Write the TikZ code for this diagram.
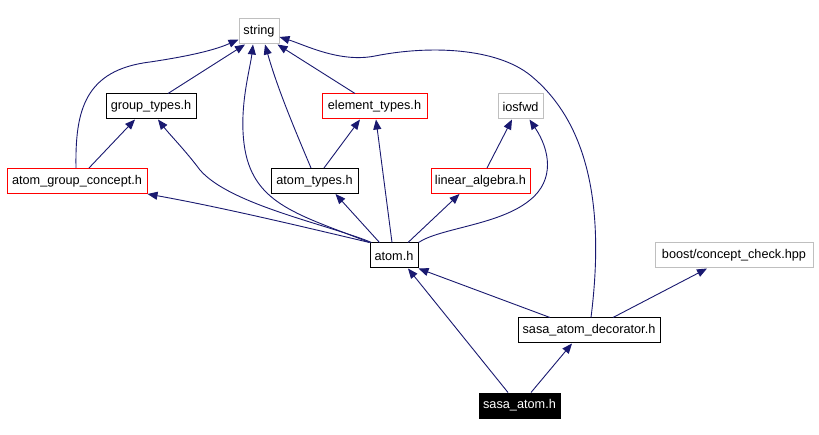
\documentclass[tikz,border=0pt]{standalone}
\usepackage{fontspec}
\setmainfont{Liberation Sans}
\usetikzlibrary{arrows.meta}
\definecolor{edgec}{HTML}{191970}
\definecolor{grayb}{HTML}{BFBFBF}
\definecolor{redb}{HTML}{FF0000}
\begin{document}
\begin{tikzpicture}[x=1pt,y=-1pt,
  box/.style={draw=black, minimum height=25pt, inner sep=0pt, line width=1pt, text=black,
    font=\fontsize{12.7}{14}\selectfont},
  redbox/.style={box, draw=redb},
  graybox/.style={box, draw=grayb},
  selbox/.style={box, fill=black, text=white},
  edge/.style={draw=edgec, line width=0.9pt, -{Triangle[length=10pt,width=8pt]}}]
\fill[white] (0,0) rectangle (819,435);
\useasboundingbox (0,0) rectangle (819,435);

\node[graybox, minimum width=40pt]  (str)   at (259,31.5)  {string};
\node[box,     minimum width=90pt]  (gt)    at (151,106.5) {group\_types.h};
\node[redbox,  minimum width=105pt] (et)    at (374.5,106.5) {element\_types.h};
\node[graybox, minimum width=45pt]  (ios)   at (520.5,106.5) {iosfwd};
\node[redbox,  minimum width=140pt] (agc)   at (77,181)    {atom\_group\_concept.h};
\node[box,     minimum width=87pt]  (at)    at (314.5,181) {atom\_types.h};
\node[redbox,  minimum width=99pt]  (la)    at (480.5,181) {linear\_algebra.h};
\node[box,     minimum width=48pt]  (atom)  at (394,255.5) {atom.h};
\node[graybox, minimum width=158pt] (boost) at (734,255.5) {boost/concept\_check.hpp};
\node[box,     minimum width=142pt] (sdec)  at (589,330.5) {sasa\_atom\_decorator.h};
\node[selbox,  minimum width=81pt]  (sasa)  at (519.5,405.5) {sasa\_atom.h};

% group_types.h
\draw[edge] ([xshift=17pt]gt.north) -- ([xshift=-14pt]str.south);
% atom_group_concept.h
\draw[edge] ([xshift=-1pt]agc.north) .. controls (75,110) and (85,70) .. (150,62)
  .. controls (190,56) and (215,50) .. ([yshift=-8pt]str.west);
\draw[edge] ([xshift=12pt]agc.north) -- ([xshift=-16pt]gt.south);
% element_types.h
\draw[edge] ([xshift=-19.5pt]et.north) -- ([xshift=-2pt]str.south east);
% atom_types.h
\draw[edge] ([xshift=-3.5pt]at.north) .. controls (295,130) and (278,90) .. ([xshift=6pt]str.south);
\draw[edge] ([xshift=9.5pt]at.north) -- ([xshift=-14.5pt]et.south);
% atom.h
\draw[edge] (atom.north west) .. controls (300,215) and (255,205) .. (245,150)
  .. controls (238,110) and (250,70) .. ([xshift=-6pt]str.south);
\draw[edge] ([xshift=2pt]atom.north west) .. controls (330,225) and (230,205) .. (200,170)
  .. controls (185,150) and (170,135) .. ([xshift=7pt]gt.south);
\draw[edge] (atom.north west) .. controls (300,226) and (220,207) .. (agc.south east);
\draw[edge] ([xshift=10pt]atom.north west) -- ([xshift=21pt]at.south);
\draw[edge] ([xshift=-2pt]atom.north) -- ([xshift=1.5pt]et.south);
\draw[edge] ([xshift=14pt]atom.north) -- ([xshift=-21pt]la.south);
\draw[edge] (atom.north east) .. controls (440,228) and (500,225) .. (530,200)
  .. controls (555,180) and (550,150) .. ([xshift=9pt]ios.south);
% linear_algebra.h
\draw[edge] ([xshift=6.5pt]la.north) -- ([xshift=-8.5pt]ios.south);
% sasa_atom_decorator.h
\draw[edge] ([xshift=2pt]sdec.north) .. controls (602,230) and (598,130) .. (530,75)
  .. controls (496,48) and (430,45) .. (375,56)
  .. controls (340,63) and (305,45) .. ([yshift=-5.5pt]str.east);
\draw[edge] ([xshift=-39pt]sdec.north) -- (atom.south east);
\draw[edge] ([xshift=24pt]sdec.north) -- ([xshift=-27pt]boost.south);
% sasa_atom.h
\draw[edge] ([xshift=-11.5pt]sasa.north) -- ([xshift=14pt]atom.south);
\draw[edge] ([xshift=11.5pt]sasa.north) -- ([xshift=-17pt]sdec.south);
\end{tikzpicture}
\end{document}
